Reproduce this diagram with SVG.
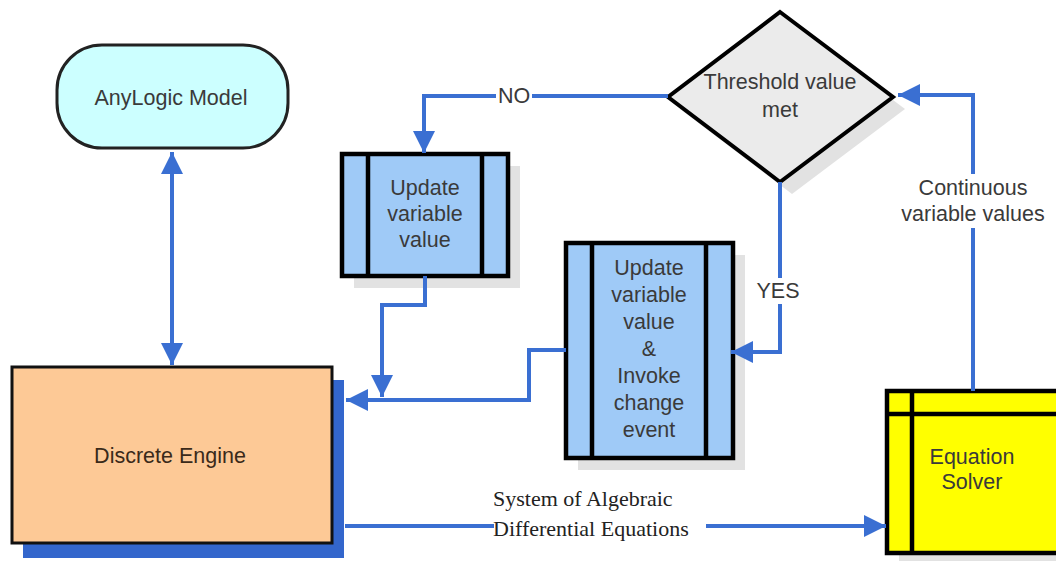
<svg xmlns="http://www.w3.org/2000/svg" width="1056" height="561" viewBox="0 0 1056 561">
<style>
.t{font-family:"Liberation Sans",Arial,sans-serif;font-size:21.5px;fill:#3a3a3a;text-anchor:middle;dominant-baseline:central}
.s{font-family:"Liberation Serif","Times New Roman",serif;font-size:22px;fill:#222;dominant-baseline:central}
.box{stroke:#000;stroke-width:4.5}
.in{stroke:#000;stroke-width:4.5;fill:none}
.sh{fill:#e2e2e2}
.c{fill:none;stroke:#3a6fd2;stroke-width:4}
</style>
<defs>
<marker id="a" viewBox="0 0 10 10" refX="10" refY="5" markerWidth="22" markerHeight="22" markerUnits="userSpaceOnUse" orient="auto-start-reverse">
<path d="M0,0 L10,5 L0,10 z" fill="#3a6fd2"/>
</marker>
</defs>
<rect width="1056" height="561" fill="#fff"/>

<g id="anylogic">
<rect x="57" y="45" width="231" height="103" rx="45" ry="45" fill="#ccffff" stroke="#222" stroke-width="3"/>
<text class="t" x="171" y="98">AnyLogic Model</text>
</g>

<g id="discrete">
<rect x="23" y="380" width="321" height="178" fill="#3366cc"/>
<rect x="12" y="367" width="320" height="176" fill="#fdc996" stroke="#111" stroke-width="3"/>
<text class="t" x="170" y="456" style="fill:#3a2a1a">Discrete Engine</text>
</g>

<g id="update1">
<rect class="sh" x="354" y="166" width="166" height="122"/>
<rect class="box" x="342" y="154" width="166" height="122" fill="#9fcaf7"/>
<line class="in" x1="368" y1="154" x2="368" y2="276"/>
<line class="in" x1="482" y1="154" x2="482" y2="276"/>
<text class="t" x="425" y="188">Update</text>
<text class="t" x="425" y="214">variable</text>
<text class="t" x="425" y="240">value</text>
</g>

<g id="update2">
<rect class="sh" x="578" y="255" width="167" height="215"/>
<rect class="box" x="566" y="243" width="167" height="215" fill="#9fcaf7"/>
<line class="in" x1="592" y1="243" x2="592" y2="458"/>
<line class="in" x1="706" y1="243" x2="706" y2="458"/>
<text class="t" x="649" y="268">Update</text>
<text class="t" x="649" y="295">variable</text>
<text class="t" x="649" y="322">value</text>
<text class="t" x="649" y="349">&amp;</text>
<text class="t" x="649" y="376">Invoke</text>
<text class="t" x="649" y="403">change</text>
<text class="t" x="649" y="430">event</text>
</g>

<g id="threshold">
<polygon class="sh" points="792,24 905,109 792,194 680,109"/>
<polygon points="780,12 893,97 780,182 668,97" fill="#ebebeb" stroke="#000" stroke-width="4"/>
<text class="t" x="780" y="82">Threshold value</text>
<text class="t" x="780" y="110">met</text>
</g>

<g id="solver">
<rect class="sh" x="899" y="403" width="170" height="162"/>
<rect class="box" x="887" y="391" width="180" height="162" fill="#ffff00"/>
<line class="in" x1="912" y1="391" x2="912" y2="553"/>
<line class="in" x1="887" y1="414" x2="1067" y2="414"/>
<text class="t" x="972" y="457">Equation</text>
<text class="t" x="972" y="482">Solver</text>
</g>

<g id="connectors">
<line class="c" x1="172" y1="152" x2="172" y2="365" marker-start="url(#a)" marker-end="url(#a)"/>
<polyline class="c" points="668,96 424,96 424,153" marker-end="url(#a)"/>
<polyline class="c" points="425,276 425,305 382,305 382,397" marker-end="url(#a)"/>
<polyline class="c" points="566,350 529,350 529,400 346,400" marker-end="url(#a)"/>
<polyline class="c" points="780,182 780,352 731,352" marker-end="url(#a)"/>
<polyline class="c" points="973,391 973,95 898,95" marker-end="url(#a)"/>
<line class="c" x1="345" y1="526" x2="494" y2="526"/>
<line class="c" x1="706" y1="526" x2="886" y2="526" marker-end="url(#a)"/>
<rect x="496" y="84" width="36" height="24" fill="#fff"/>
<text class="t" x="514" y="96">NO</text>
<rect x="756" y="278" width="46" height="26" fill="#fff"/>
<text class="t" x="778" y="291">YES</text>
<rect x="897" y="174" width="152" height="54" fill="#fff"/>
<text class="t" x="973" y="188">Continuous</text>
<text class="t" x="973" y="214">variable values</text>
<text class="s" x="493" y="498">System of Algebraic</text>
<text class="s" x="493" y="528">Differential Equations</text>
</g>
</svg>
